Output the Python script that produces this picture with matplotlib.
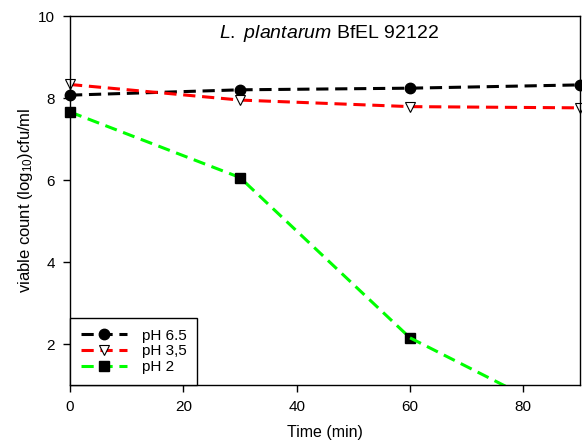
import matplotlib
matplotlib.use('Agg')
import matplotlib.pyplot as plt
import numpy as np

plt.rcParams['font.family'] = ['Liberation Sans', 'DejaVu Sans']
plt.rcParams['mathtext.fontset'] = 'custom'
plt.rcParams['mathtext.rm'] = 'Liberation Sans'
plt.rcParams['mathtext.it'] = 'Liberation Sans:italic'

time_min = [0, 30, 60, 90]
ph65 = [8.07, 8.20, 8.24, 8.32]
ph35 = [8.33, 7.95, 7.79, 7.76]
ph2 = [7.66, 6.06, 2.15, 0.05]

fig = plt.figure(figsize=(5.82, 4.40), dpi=100)
ax = fig.add_axes([0.1203, 0.125, 0.8763, 0.8386])

dash = (0, (4, 2.2))
ax.plot(time_min, ph65, color='black', linestyle=dash, linewidth=2.2,
        marker='o', markersize=7.5, markerfacecolor='black',
        markeredgecolor='black', label='pH 6.5', clip_on=False)
ax.plot(time_min, ph35, color='#ff0000', linestyle=dash, linewidth=2.2,
        marker='v', markersize=7.5, markerfacecolor='white',
        markeredgecolor='black', markeredgewidth=0.8, label='pH 3,5', clip_on=False)
ax.plot(time_min[:3], ph2[:3], color='#00ff00', linestyle=dash, linewidth=2.2,
        marker='s', markersize=6.5, markerfacecolor='black',
        markeredgecolor='black', label='pH 2', clip_on=False)
ax.plot(time_min[2:], ph2[2:], color='#00ff00', linestyle=dash, linewidth=2.2)

ax.set_xlim(0, 90)
ax.set_ylim(1, 10)
ax.set_xticks([0, 20, 40, 60, 80])
ax.set_yticks([2, 4, 6, 8, 10])
ax.tick_params(direction='out', length=5, width=1, labelsize=11, pad=6)
for s in ax.spines.values():
    s.set_linewidth(1)

ax.set_xlabel('Time (min)', fontsize=11.5, labelpad=8)
ax.set_ylabel('viable count (log$_{10}$)cfu/ml', fontsize=12, labelpad=2)

ax.text(0.508, 0.98, r'$\mathit{L.\ plantarum}$ BfEL 92122',
        transform=ax.transAxes, fontsize=14, ha='center', va='top')

leg = ax.legend(loc='lower left', bbox_to_anchor=(0, 0), borderaxespad=0,
                fontsize=11, fancybox=False, edgecolor='black',
                handlelength=3.0, handletextpad=1.0, framealpha=1,
                borderpad=0.7, labelspacing=0.12)
leg.get_frame().set_linewidth(1)

fig.savefig('out.png', dpi=100)
